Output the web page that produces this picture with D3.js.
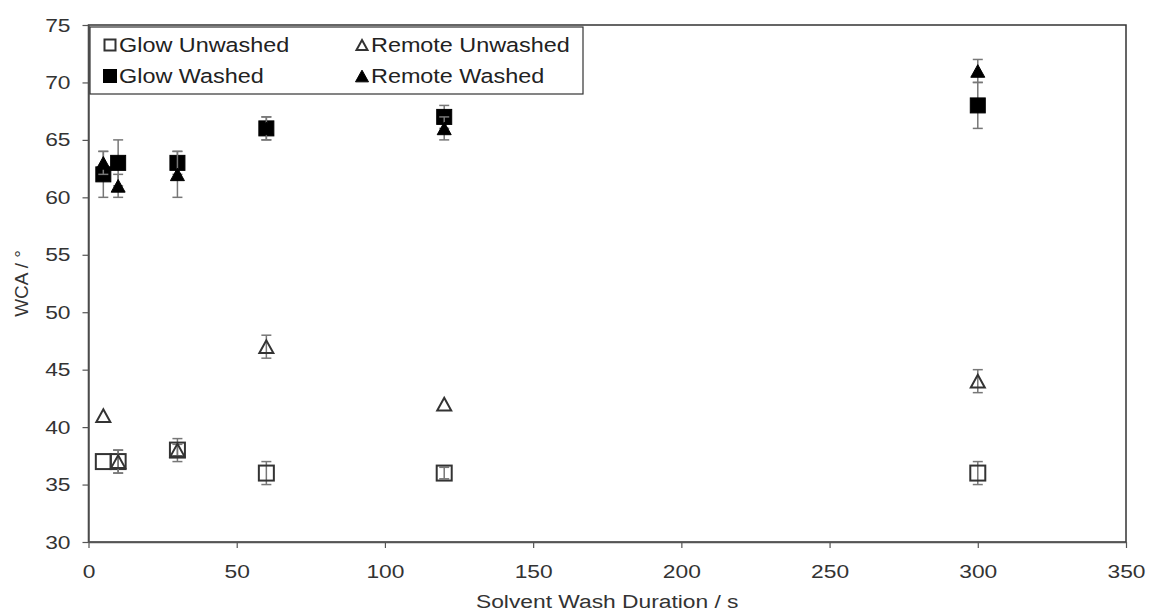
<!DOCTYPE html>
<html>
<head>
<meta charset="utf-8">
<script src="https://cdn.jsdelivr.net/npm/d3@7"></script>
<style>
  body { margin: 0; background: #fff; }
  svg { font-family: "Liberation Sans", Arial, sans-serif; }
</style>
</head>
<body>
<svg id="chart" width="1150" height="612"></svg>
<script>
"use strict";

// durees de lavage (s)
var durations = [5, 10, 30, 60, 120, 300];

// WCA moyens et barres d'erreur, par serie
var glowUnwashed = [37, 37, 38, 36, 36, 36];
var glowUnwashedErr = [0, 1, 1, 1, 0.5, 1];
var remoteUnwashed = [41, 37, 38, 47, 42, 44];
var remoteUnwashedErr = [0, 1, 0.5, 1, 0, 1];
var glowWashed = [62, 63, 63, 66, 67, 68];
var glowWashedErr = [2, 2, 1, 1, 1, 2];
var remoteWashed = [63, 61, 62, 66, 66, 71];
var remoteWashedErr = [1, 1, 2, 1, 1, 1];

var xTicks = [0, 50, 100, 150, 200, 250, 300, 350];
var yTicks = [30, 35, 40, 45, 50, 55, 60, 65, 70, 75];

var series = [
  { name: "Glow Unwashed", shape: "square", filled: false, values: glowUnwashed, err: glowUnwashedErr },
  { name: "Remote Unwashed", shape: "triangle", filled: false, values: remoteUnwashed, err: remoteUnwashedErr },
  { name: "Glow Washed", shape: "square", filled: true, values: glowWashed, err: glowWashedErr },
  { name: "Remote Washed", shape: "triangle", filled: true, values: remoteWashed, err: remoteWashedErr }
];

// l'image d'origine est etiree horizontalement
var STRETCH = 1.2;

var svg = d3.select("#chart");
var margin = { left: 88.5, top: 25, right: 1126, bottom: 542 };

var x = d3.scaleLinear().domain([0, 350]).range([margin.left, margin.right]);
var y = d3.scaleLinear().domain([30, 75]).range([margin.bottom, margin.top]);

// cadre de la zone de trace
svg.append("rect")
  .attr("x", margin.left)
  .attr("y", margin.top)
  .attr("width", margin.right - margin.left)
  .attr("height", margin.bottom - margin.top)
  .attr("fill", "none")
  .attr("stroke", "#333")
  .attr("stroke-width", 1.5);

var xAxis = svg.append("g")
  .attr("transform", "translate(0," + margin.bottom + ")")
  .call(d3.axisBottom(x).tickValues(xTicks).tickSize(6).tickSizeOuter(0));
var yAxis = svg.append("g")
  .attr("transform", "translate(" + margin.left + ",0)")
  .call(d3.axisLeft(y).tickValues(yTicks).tickSize(6).tickSizeOuter(0));

[xAxis, yAxis].forEach(function (g) {
  g.select(".domain").attr("stroke", "#555").attr("stroke-width", 1.5);
  g.selectAll(".tick line").attr("stroke", "#555").attr("stroke-width", 1.2);
  g.selectAll(".tick text")
    .attr("fill", "#333")
    .attr("transform", "scale(" + STRETCH + ",1)")
    .style("font-size", "19px")
    .style("font-family", "Liberation Sans, Arial, sans-serif");
});
xAxis.selectAll(".tick text").attr("y", 23).attr("dy", "0.71em");
yAxis.selectAll(".tick text").attr("x", -18 / STRETCH);

svg.append("text")
  .attr("transform", "translate(" + ((margin.left + margin.right) / 2) + ",608) scale(" + STRETCH + ",1)")
  .attr("text-anchor", "middle")
  .attr("fill", "#333")
  .style("font-size", "19px")
  .text("Solvent Wash Duration / s");

svg.append("text")
  .attr("transform", "translate(28," + ((margin.top + margin.bottom) / 2) + ") rotate(-90)")
  .attr("text-anchor", "middle")
  .attr("fill", "#333")
  .style("font-size", "19px")
  .text("WCA / °");

// dessine un marqueur centre en (cx, cy)
function marker(g, s, cx, cy, size) {
  if (s.shape === "square") {
    g.append("rect")
      .attr("x", cx - size / 2)
      .attr("y", cy - size / 2)
      .attr("width", size)
      .attr("height", size)
      .attr("fill", s.filled ? "#000" : "none")
      .attr("stroke", s.filled ? "#000" : "#333")
      .attr("stroke-width", s.filled ? 1 : 2);
  } else {
    var h = size * 0.9;
    g.append("path")
      .attr("d", "M" + cx + "," + (cy - h / 2) +
        "L" + (cx + size / 2) + "," + (cy + h / 2) +
        "L" + (cx - size / 2) + "," + (cy + h / 2) + "Z")
      .attr("fill", s.filled ? "#000" : "none")
      .attr("stroke", s.filled ? "#000" : "#333")
      .attr("stroke-width", s.filled ? 1 : 2);
  }
}

var plot = svg.append("g");

series.forEach(function (s) {
  var g = plot.append("g").attr("class", "serie");
  var pts = durations.map(function (d, i) {
    return { x: d, y: s.values[i], e: s.err[i] };
  });

  // barres d'erreur
  var eb = g.selectAll("g.err")
    .data(pts.filter(function (p) { return p.e > 0; }))
    .enter()
    .append("g")
    .attr("class", "err")
    .attr("stroke", "#777")
    .attr("stroke-width", 1.5);
  eb.append("line")
    .attr("x1", function (p) { return x(p.x); })
    .attr("x2", function (p) { return x(p.x); })
    .attr("y1", function (p) { return y(p.y - p.e); })
    .attr("y2", function (p) { return y(p.y + p.e); });
  eb.append("line")
    .attr("x1", function (p) { return x(p.x) - 5; })
    .attr("x2", function (p) { return x(p.x) + 5; })
    .attr("y1", function (p) { return y(p.y + p.e); })
    .attr("y2", function (p) { return y(p.y + p.e); });
  eb.append("line")
    .attr("x1", function (p) { return x(p.x) - 5; })
    .attr("x2", function (p) { return x(p.x) + 5; })
    .attr("y1", function (p) { return y(p.y - p.e); })
    .attr("y2", function (p) { return y(p.y - p.e); });

  pts.forEach(function (p) {
    marker(g, s, x(p.x), y(p.y), s.shape === "square" ? 15 : 14);
  });
});

// legende
var legend = svg.append("g").attr("class", "legend");
legend.append("rect")
  .attr("x", 90)
  .attr("y", 27)
  .attr("width", 493)
  .attr("height", 67)
  .attr("fill", "#fff")
  .attr("stroke", "#333")
  .attr("stroke-width", 1.2);

var legendPos = [
  { x: 110, y: 45 },
  { x: 362, y: 45 },
  { x: 110, y: 76 },
  { x: 362, y: 76 }
];

series.forEach(function (s, i) {
  var p = legendPos[i];
  var lg = legend.append("g");
  marker(lg, { shape: s.shape, filled: s.filled }, p.x, p.y, s.filled ? 13 : 11);
  lg.append("text")
    .attr("transform", "translate(" + (p.x + 9) + "," + p.y + ") scale(" + STRETCH + ",1)")
    .attr("dy", "0.35em")
    .attr("fill", "#222")
    .style("font-size", "19.5px")
    .text(s.name);
});
</script>
</body>
</html>
